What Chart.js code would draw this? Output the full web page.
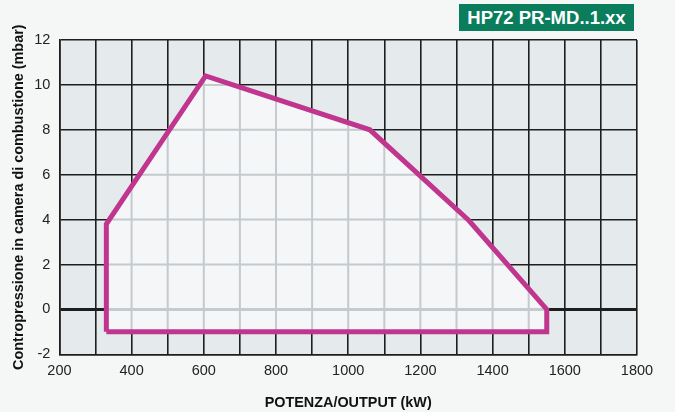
<!DOCTYPE html>
<html lang="it">
<head>
<meta charset="UTF-8">
<title>HP72 PR-MD..1.xx</title>
<script src="https://cdn.jsdelivr.net/npm/chart.js"></script>
<style>
    body { margin: 0; background: #f5f6f6; font-family: "Liberation Sans", Arial, sans-serif; }
    .wrap { position: relative; width: 675px; height: 412px; }
    .badge {
        position: absolute; left: 459px; top: 4px; width: 175px; height: 27px;
        background: #0a7d5c; color: #fff; font-weight: bold; font-size: 18.5px;
        line-height: 27px; text-align: center;
    }
</style>
</head>
<body>
<div class="wrap">
    <canvas id="grafico"></canvas>
    <div class="badge">HP72 PR-MD..1.xx</div>
</div>
<script>
    // campo di lavoro (kW, mbar)
    const potenza = [330, 330, 605, 1060, 1335, 1550, 1550, 330];
    const contropressione = [-1, 3.8, 10.4, 8.0, 3.95, 0, -1, -1];
    const xTicks = [200, 400, 600, 800, 1000, 1200, 1400, 1600, 1800];
    const yTicks = [-2, 0, 2, 4, 6, 8, 10, 12];

    const punti = potenza.map((x, i) => ({ x: x, y: contropressione[i] }));

    // sfondo area grafico
    const sfondo = {
        id: 'sfondo',
        beforeDraw(chart) {
            const { ctx, chartArea: a } = chart;
            ctx.save();
            ctx.fillStyle = '#e5eaed';
            ctx.fillRect(a.left, a.top, a.right - a.left, a.bottom - a.top);
            ctx.restore();
        }
    };

    // riempimento del campo + griglia chiara all'interno
    const campo = {
        id: 'campo',
        beforeDatasetsDraw(chart) {
            const { ctx, chartArea: a } = chart;
            const pts = chart.getDatasetMeta(0).data;
            const sx = chart.scales.x, sy = chart.scales.y;
            ctx.save();
            ctx.beginPath();
            pts.forEach((p, i) => i ? ctx.lineTo(p.x, p.y) : ctx.moveTo(p.x, p.y));
            ctx.closePath();
            ctx.fillStyle = '#f4f6f8';
            ctx.fill();
            ctx.clip();
            ctx.strokeStyle = '#c4cacd';
            sx.ticks.forEach(t => {
                const px = sx.getPixelForValue(t.value);
                ctx.lineWidth = 2;
                ctx.beginPath(); ctx.moveTo(px, a.top); ctx.lineTo(px, a.bottom); ctx.stroke();
            });
            sy.ticks.forEach(t => {
                const py = sy.getPixelForValue(t.value);
                ctx.lineWidth = t.value === 0 ? 3 : 2;
                ctx.beginPath(); ctx.moveTo(a.left, py); ctx.lineTo(a.right, py); ctx.stroke();
            });
            ctx.restore();
        }
    };

    const font = { family: '"Liberation Sans", Arial', size: 14.5 };
    const fontBold = { family: '"Liberation Sans", Arial', size: 14.4, weight: 'bold' };

    const ctx = document.getElementById('grafico').getContext('2d');
    new Chart(ctx, {
        type: 'scatter',
        data: {
            datasets: [{
                data: punti,
                showLine: true,
                fill: false,
                borderColor: '#c0368e',
                borderWidth: 5,
                borderJoinStyle: 'miter',
                pointRadius: 0,
                tension: 0
            }]
        },
        options: {
            responsive: true,
            maintainAspectRatio: false,
            animation: false,
            layout: { padding: { left: 10, right: 38, top: 40, bottom: 0 } },
            plugins: { legend: { display: false }, tooltip: { enabled: false } },
            scales: {
                x: {
                    type: 'linear',
                    min: 200, max: 1800,
                    ticks: {
                        stepSize: 100,
                        autoSkip: false,
                        maxRotation: 0,
                        color: '#222',
                        padding: 8,
                        font: font,
                        callback: v => xTicks.includes(v) ? v : ''
                    },
                    grid: { color: '#1e1e1e', lineWidth: 1.6, drawTicks: false },
                    border: { color: '#1e1e1e', width: 1.6 },
                    title: {
                        display: true,
                        text: 'POTENZA/OUTPUT (kW)',
                        color: '#111',
                        font: fontBold,
                        padding: { top: 7, bottom: 0 }
                    }
                },
                y: {
                    min: -2, max: 12,
                    ticks: {
                        stepSize: 2,
                        color: '#222',
                        padding: 9,
                        font: font,
                        callback: v => yTicks.includes(v) ? v : ''
                    },
                    grid: {
                        color: '#1e1e1e',
                        lineWidth: c => c.tick && c.tick.value === 0 ? 3 : 1.6,
                        drawTicks: false
                    },
                    border: { color: '#1e1e1e', width: 1.6 },
                    title: {
                        display: true,
                        text: 'Contropressione in camera di combustione (mbar)',
                        color: '#111',
                        font: fontBold,
                        padding: { top: 0, bottom: -2 }
                    }
                }
            }
        },
        plugins: [sfondo, campo]
    });
</script>
</body>
</html>
